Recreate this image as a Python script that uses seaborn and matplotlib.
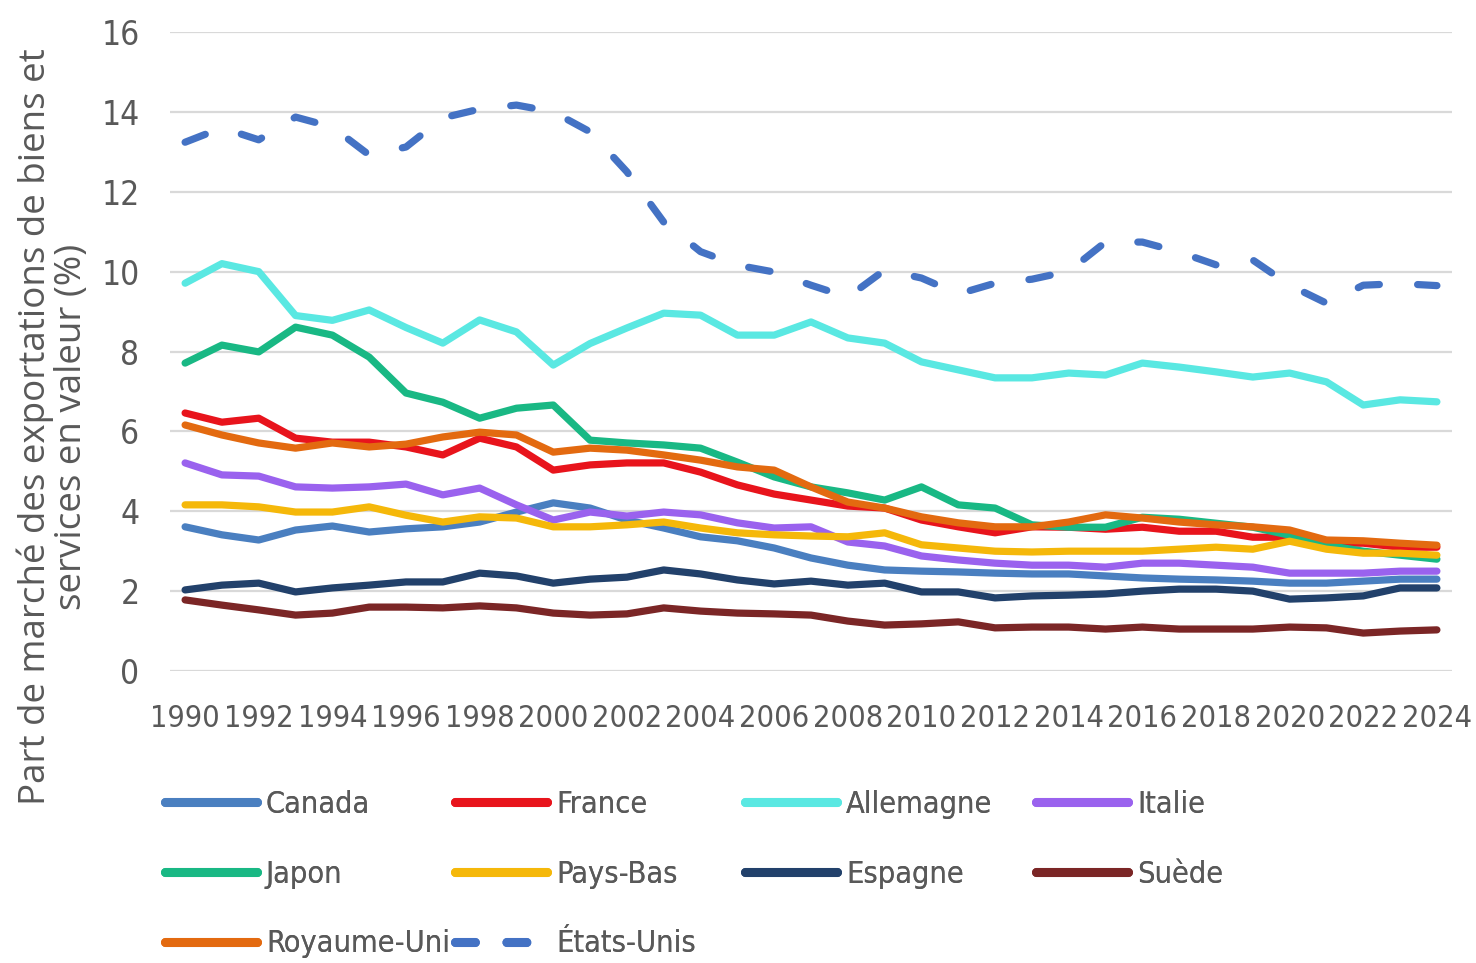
import matplotlib
matplotlib.use("Agg")
import matplotlib.pyplot as plt
from matplotlib import font_manager
import seaborn as sns
import pandas as pd
from matplotlib.lines import Line2D

years = [1990, 1991, 1992, 1993, 1994, 1995, 1996, 1997, 1998, 1999,
         2000, 2001, 2002, 2003, 2004, 2005, 2006, 2007, 2008, 2009,
         2010, 2011, 2012, 2013, 2014, 2015, 2016, 2017, 2018, 2019,
         2020, 2021, 2022, 2023, 2024]

canada = [3.61, 3.41, 3.28, 3.53, 3.63, 3.48, 3.56, 3.61, 3.73, 3.98,
          4.21, 4.08, 3.78, 3.58, 3.36, 3.26, 3.08, 2.83, 2.65, 2.53,
          2.50, 2.48, 2.45, 2.43, 2.43, 2.38, 2.33, 2.30, 2.28, 2.25,
          2.20, 2.20, 2.25, 2.30, 2.30]
france = [6.46, 6.23, 6.33, 5.83, 5.73, 5.73, 5.61, 5.41, 5.83, 5.61,
          5.03, 5.16, 5.21, 5.21, 4.98, 4.66, 4.43, 4.28, 4.13, 4.08,
          3.78, 3.61, 3.46, 3.61, 3.60, 3.55, 3.60, 3.50, 3.50, 3.35,
          3.35, 3.20, 3.20, 3.10, 3.10]
allemagne = [9.71, 10.20, 10.00, 8.90, 8.78, 9.04, 8.60, 8.21, 8.79, 8.49,
             7.66, 8.20, 8.59, 8.96, 8.91, 8.41, 8.41, 8.74, 8.34, 8.21,
             7.74, 7.54, 7.34, 7.34, 7.46, 7.41, 7.71, 7.61, 7.49, 7.36,
             7.46, 7.24, 6.66, 6.79, 6.74]
italie = [5.21, 4.91, 4.88, 4.61, 4.58, 4.61, 4.68, 4.41, 4.58, 4.16,
          3.78, 3.98, 3.88, 3.98, 3.91, 3.71, 3.58, 3.61, 3.23, 3.13,
          2.88, 2.78, 2.70, 2.65, 2.65, 2.60, 2.70, 2.70, 2.65, 2.60,
          2.45, 2.45, 2.45, 2.50, 2.50]
japon = [7.71, 8.16, 7.99, 8.61, 8.41, 7.86, 6.96, 6.73, 6.33, 6.58,
         6.66, 5.78, 5.71, 5.66, 5.58, 5.23, 4.86, 4.61, 4.46, 4.28,
         4.61, 4.16, 4.08, 3.66, 3.60, 3.60, 3.85, 3.80, 3.70, 3.60,
         3.40, 3.15, 3.00, 2.90, 2.80]
pays_bas = [4.16, 4.16, 4.11, 3.98, 3.98, 4.11, 3.90, 3.73, 3.86, 3.83,
            3.61, 3.61, 3.66, 3.73, 3.58, 3.46, 3.41, 3.38, 3.36, 3.46,
            3.16, 3.08, 3.00, 2.98, 3.00, 3.00, 3.00, 3.05, 3.10, 3.05,
            3.25, 3.05, 2.95, 2.95, 2.90]
espagne = [2.03, 2.15, 2.20, 1.98, 2.08, 2.15, 2.23, 2.23, 2.45, 2.38,
           2.20, 2.30, 2.35, 2.53, 2.43, 2.28, 2.18, 2.25, 2.15, 2.20,
           1.98, 1.98, 1.83, 1.88, 1.90, 1.93, 2.00, 2.05, 2.05, 2.00,
           1.80, 1.83, 1.88, 2.08, 2.08]
suede = [1.78, 1.65, 1.53, 1.40, 1.45, 1.60, 1.60, 1.58, 1.63, 1.58,
         1.45, 1.40, 1.43, 1.58, 1.50, 1.45, 1.43, 1.40, 1.25, 1.15,
         1.18, 1.23, 1.08, 1.10, 1.10, 1.05, 1.10, 1.05, 1.05, 1.05,
         1.10, 1.08, 0.95, 1.00, 1.03]
royaume_uni = [6.16, 5.91, 5.71, 5.58, 5.71, 5.61, 5.68, 5.86, 5.98, 5.91,
               5.48, 5.58, 5.53, 5.41, 5.28, 5.11, 5.03, 4.61, 4.23, 4.08,
               3.86, 3.71, 3.61, 3.61, 3.73, 3.91, 3.83, 3.73, 3.66, 3.61,
               3.53, 3.28, 3.26, 3.20, 3.15]
etats_unis = [13.24, 13.60, 13.30, 13.87, 13.62, 12.92, 13.12, 13.85, 14.07, 14.17,
              14.00, 13.50, 12.50, 11.24, 10.50, 10.16, 9.99, 9.66, 9.36, 10.04,
              9.84, 9.44, 9.71, 9.81, 10.01, 10.74, 10.74, 10.49, 10.17, 10.29,
              9.66, 9.21, 9.66, 9.70, 9.65]

series_names = ["Canada", "France", "Allemagne", "Italie", "Japon",
                "Pays-Bas", "Espagne", "Suède", "Royaume-Uni", "États-Unis"]
series_values = [canada, france, allemagne, italie, japon,
                 pays_bas, espagne, suede, royaume_uni, etats_unis]
colors = ["#4a7fc0", "#e8141c", "#5ae8e2", "#9a62ee", "#19b884",
          "#f5b80a", "#22416b", "#7b2626", "#e36a10", "#4472c4"]

xtick_labels = [1990, 1992, 1994, 1996, 1998, 2000, 2002, 2004, 2006, 2008,
                2010, 2012, 2014, 2016, 2018, 2020, 2022, 2024]
ytick_labels = [0, 2, 4, 6, 8, 10, 12, 14, 16]

sns.set_theme(style="white")

# pick a condensed face if available, else a fairly narrow one
names = {(f.name, f.stretch) for f in font_manager.fontManager.ttflist}
if any(n == "DejaVu Sans" and s == "condensed" for n, s in names):
    tick_font = dict(family=["DejaVu Sans"], stretch="condensed")
    tick_size = 22
elif any(n == "Liberation Sans Narrow" for n, s in names):
    tick_font = dict(family=["Liberation Sans Narrow"], stretch="normal")
    tick_size = 25
else:
    tick_font = dict(family=["Lato", "DejaVu Sans"], stretch="normal")
    tick_size = 20

plt.rcParams["font.family"] = tick_font["family"] + ["DejaVu Sans"]
plt.rcParams["font.stretch"] = tick_font["stretch"]

W, H = 1476, 963
fig = plt.figure(figsize=(W / 100, H / 100), dpi=100)
ax = fig.add_axes([170 / W, 1 - 671 / H, (1452 - 170) / W, (671 - 32) / H])

text_color = "#595959"
lw = 5.2
handles = []
for name, vals, col in zip(series_names, series_values, colors):
    df = pd.DataFrame({"year": years, "value": vals})
    sns.lineplot(data=df, x="year", y="value", ax=ax, color=col, linewidth=lw,
                 legend=False, solid_capstyle="round", solid_joinstyle="round")
    line = ax.lines[-1]
    if name == "États-Unis":
        line.set_dashes([3.0, 5.3])
        line.set_dash_capstyle("round")
        h = Line2D([0], [0], color=col, linewidth=6.5, dashes=[2.2, 3.5],
                   dash_capstyle="round")
    else:
        h = Line2D([0], [0], color=col, linewidth=6.5, solid_capstyle="round")
    handles.append(h)

ax.set_xlim(1989.59, 2024.41)
ax.set_ylim(0, 16)
ax.set_xticks(xtick_labels)
ax.set_xticklabels([str(v) for v in xtick_labels])
ax.set_yticks(ytick_labels)
ax.set_yticklabels([str(v) for v in ytick_labels])
ax.set_xlabel("")
ax.set_ylabel("")
ax.grid(axis="y", color="#d9d9d9", linewidth=1.6)
ax.grid(axis="x", visible=False)
for s in ax.spines.values():
    s.set_visible(False)
ax.tick_params(axis="x", length=0, pad=24, labelsize=tick_size, labelcolor=text_color)
ax.tick_params(axis="y", length=0, pad=22, labelsize=tick_size + 2, labelcolor=text_color)
ax.set_axisbelow(True)

fig.text(53 / W, 1 - 427 / H,
         "Part de marché des exportations de biens et\nservices en valeur (%)",
         rotation=90, ha="center", va="center", multialignment="center",
         fontsize=26.5, color=text_color, family=["Open Sans", "DejaVu Sans"],
         stretch="normal", linespacing=1.0)

# Legend: fixed-width columns (row-major order as in the original)
columns = [[0, 4, 8], [1, 5, 9], [2, 6], [3, 7]]
col_x = [165, 455, 745, 1036]
for ci, idxs in enumerate(columns):
    leg = fig.legend([handles[i] for i in idxs], [series_names[i] for i in idxs],
                     loc="upper left", bbox_to_anchor=(col_x[ci] / W, 1 - 790 / H),
                     frameon=False, fontsize=tick_size, handlelength=3.0,
                     handletextpad=0.3, labelspacing=1.33, borderpad=0,
                     borderaxespad=0, labelcolor=text_color)
    fig.add_artist(leg)

fig.savefig("out.png", dpi=100, facecolor="white")
